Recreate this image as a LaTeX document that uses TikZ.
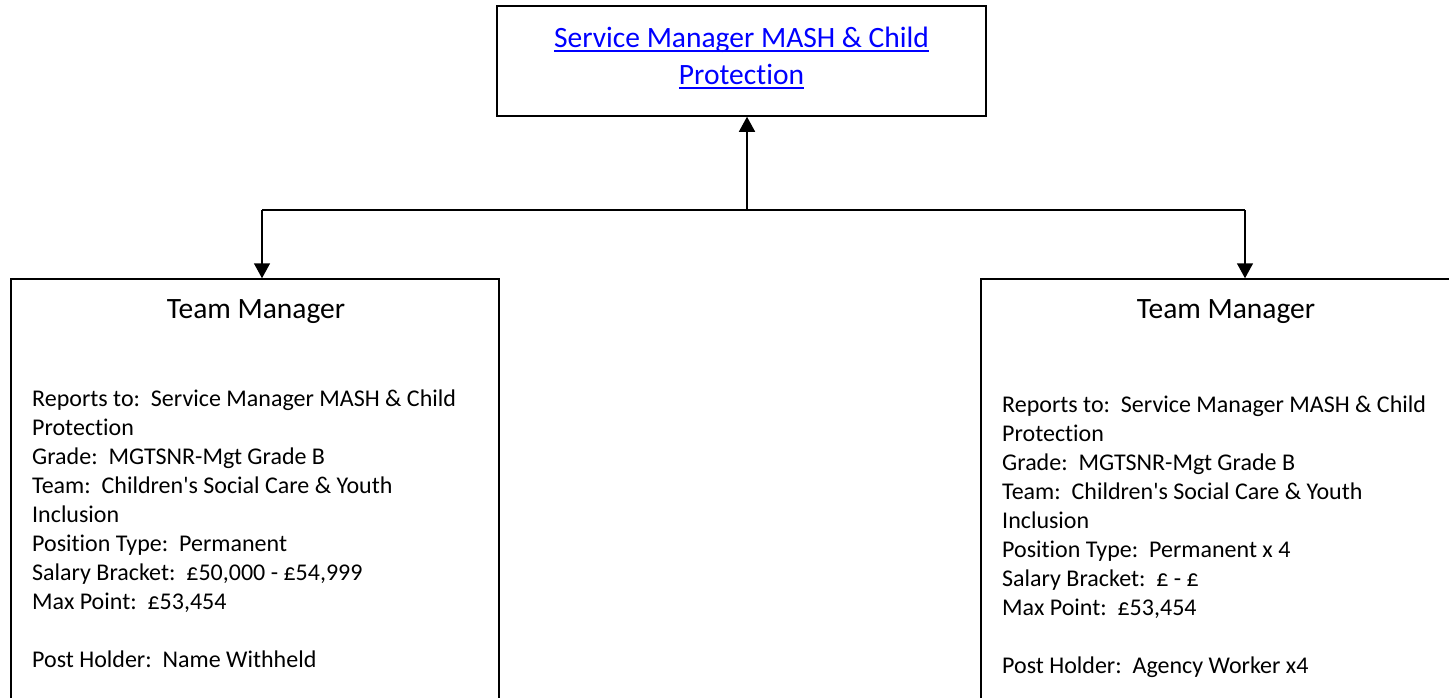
\documentclass[tikz,border=0pt]{standalone}
\usepackage{fontspec}
\setmainfont{Carlito}[Ligatures={NoCommon}]
\usetikzlibrary{arrows.meta,positioning}
\definecolor{linkblue}{RGB}{0,0,255}

\newcommand\linkul[1]{\setbox0\hbox{#1}\rlap{\rule[-4pt]{\wd0}{1.5pt}}\box0}

\tikzset{
  orgbox/.style={draw=black, line width=1.5pt, inner sep=0pt},
  roletitle/.style={font=\fontsize{29.5}{34}\selectfont, inner sep=0pt},
  roleinfo/.style={font=\fontsize{24}{29}\selectfont, align=left, inner sep=0pt},
  linkto/.style={line width=1.5pt, -{Triangle[width=16pt,length=15pt]}},
}

\begin{document}
\begin{tikzpicture}[x=1pt, y=-1pt]
  \useasboundingbox (0,0) rectangle (1449,697);
  \clip (0,0) rectangle (1449,697);

  % boxes
  \node[orgbox, minimum width=489pt, minimum height=110pt] (smgr) at (741.5,61) {};
  \node[align=center, text=linkblue, inner sep=0pt,
        font=\fontsize{29.5}{37}\selectfont] (smgrtxt) at (741.5,58)
        {\linkul{Service Manager MASH \& Child}\\\linkul{Protection}};
  \node[orgbox, minimum width=488pt, minimum height=461pt] (tmL) at (255,509.5) {};
  \node[orgbox, minimum width=490pt, minimum height=461pt] (tmR) at (1226,509.5) {};

  \node[roletitle, anchor=base] (ttlL) at (256,318) {Team Manager};
  \node[roletitle, anchor=base] (ttlR) at (1226,318) {Team Manager};

  \node[roleinfo, anchor=north west] (infoL) at (32,390) {%
    Reports to:~~Service Manager MASH \& Child\\
    Protection\\
    Grade:~~MGTSNR-Mgt Grade B\\
    Team:~~Children\textquotesingle s Social Care \& Youth\\
    Inclusion\\
    Position Type:~~Permanent\\
    Salary Bracket:~~£50,000 - £54,999\\
    Max Point:~~£53,454\\[29pt]
    Post Holder:~~Name Withheld};
  \node[roleinfo, anchor=north west] (infoR) at (1002,396) {%
    Reports to:~~Service Manager MASH \& Child\\
    Protection\\
    Grade:~~MGTSNR-Mgt Grade B\\
    Team:~~Children\textquotesingle s Social Care \& Youth\\
    Inclusion\\
    Position Type:~~Permanent x 4\\
    Salary Bracket:~~£ - £\\
    Max Point:~~£53,454\\[29pt]
    Post Holder:~~Agency Worker x4};

  % connectors
  \coordinate (busM) at (747,210);
  \coordinate (busL) at (262,210);
  \coordinate (busR) at (1245,210);

  \draw[line width=1.5pt] (busL) -- (busR);
  \draw[linkto] (busM) -- (busM |- smgr.south);
  \draw[linkto] (busL) -- (busL |- tmL.north);
  \draw[linkto] (busR) -- (busR |- tmR.north);
\end{tikzpicture}
\end{document}
